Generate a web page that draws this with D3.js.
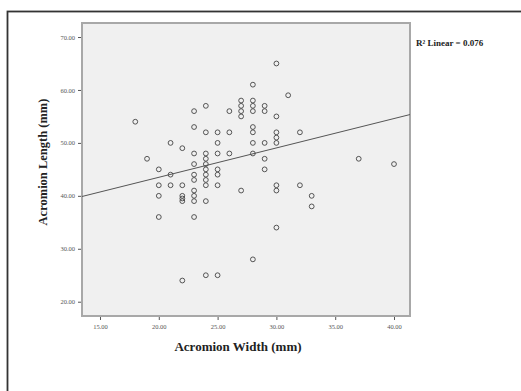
<!DOCTYPE html>
<html>
<head>
<meta charset="utf-8">
<script src="https://cdn.jsdelivr.net/npm/d3@7"></script>
<style>
  body { margin: 0; background: #fff; }
  svg { display: block; }
</style>
</head>
<body>
<figure id="scatter" style="margin:0"></figure>
<script>
// Acromion width (mm) for each case
const acromionWidth = [
  18, 19,
  20, 20, 20, 20,
  21, 21, 21,
  22, 22, 22, 22, 22, 22,
  23, 23, 23, 23, 23, 23, 23, 23, 23, 23,
  24, 24, 24, 24, 24, 24, 24, 24, 24, 24, 24,
  25, 25, 25, 25, 25, 25, 25,
  26, 26, 26,
  27, 27, 27, 27, 27,
  28, 28, 28, 28, 28, 28, 28, 28, 28,
  29, 29, 29, 29, 29,
  30, 30, 30, 30, 30, 30, 30, 30,
  31, 32, 32, 33, 33, 37, 40
];
// Acromion length (mm), same order
const acromionLength = [
  54, 47,
  45, 42, 40, 36,
  50, 44, 42,
  49, 42, 40, 39.5, 39, 24,
  56, 53, 48, 46, 44, 43, 41, 40, 39, 36,
  57, 52, 48, 47, 46, 45, 44, 43, 42, 39, 25,
  52, 50, 48, 45, 44, 42, 25,
  56, 52, 48,
  58, 57, 56, 55, 41,
  61, 58, 57, 56, 53, 52, 50, 48, 28,
  57, 56, 50, 47, 45,
  65, 55, 52, 51, 50, 42, 41, 34,
  59, 52, 42, 40, 38, 47, 46
];
const xTicks = [15, 20, 25, 30, 35, 40];
const yTicks = [20, 30, 40, 50, 60, 70];
// linear fit
const fitIntercept = 32.4;
const fitSlope = 0.555;
const rSquared = "0.076";

const width = 521, height = 391;
const plot = { left: 82, top: 23, right: 410, bottom: 316 };

const svg = d3.select("figure#scatter")
  .append("svg")
  .attr("width", width)
  .attr("height", height);

// outer frame
svg.append("rect")
  .attr("x", 7.5).attr("y", 11.5)
  .attr("width", 600).attr("height", 500)
  .attr("fill", "none")
  .attr("stroke", "#333")
  .attr("stroke-width", 1.8);

const x = d3.scaleLinear()
  .domain([13.47, 41.36])
  .range([plot.left, plot.right]);

const y = d3.scaleLinear()
  .domain([17.3, 72.65])
  .range([plot.bottom, plot.top]);

// plot background
svg.append("rect")
  .attr("x", plot.left).attr("y", plot.top)
  .attr("width", plot.right - plot.left)
  .attr("height", plot.bottom - plot.top)
  .attr("fill", "#f0f0f0")
  .attr("stroke", "#a8a8a8")
  .attr("stroke-width", 2);

// axes
const xAxis = svg.append("g")
  .attr("transform", "translate(0," + (plot.bottom + 1) + ")")
  .call(d3.axisBottom(x).tickValues(xTicks).tickFormat(d3.format(".2f")).tickSize(3).tickSizeOuter(0));

const yAxis = svg.append("g")
  .attr("transform", "translate(" + (plot.left - 1) + ",0)")
  .call(d3.axisLeft(y).tickValues(yTicks).tickFormat(d3.format(".2f")).tickSize(3).tickSizeOuter(0));

[xAxis, yAxis].forEach(a => {
  a.select(".domain").remove();
  a.selectAll("line").attr("stroke", "#555");
  a.selectAll("text")
    .attr("fill", "#555")
    .style("font-family", "Liberation Serif, serif")
    .style("font-size", "6.5px");
});
xAxis.selectAll("text").attr("dy", "0.9em");

// fit line
svg.append("line")
  .attr("x1", x(13.47)).attr("y1", y(fitIntercept + fitSlope * 13.47))
  .attr("x2", x(41.36)).attr("y2", y(fitIntercept + fitSlope * 41.36))
  .attr("stroke", "#555")
  .attr("stroke-width", 1);

// points
svg.append("g")
  .selectAll("circle")
  .data(acromionWidth.map((w, i) => ({ w: w, l: acromionLength[i] })))
  .enter()
  .append("circle")
  .attr("cx", d => x(d.w))
  .attr("cy", d => y(d.l))
  .attr("r", 2.4)
  .attr("fill", "none")
  .attr("stroke", "#444")
  .attr("stroke-width", 0.9);

// titles
svg.append("text")
  .attr("x", 238)
  .attr("y", 351)
  .attr("text-anchor", "middle")
  .style("font-family", "Liberation Serif, serif")
  .style("font-weight", "bold")
  .style("font-size", "13px")
  .attr("fill", "#222")
  .text("Acromion Width (mm)");

svg.append("text")
  .attr("transform", "translate(47,162) rotate(-90)")
  .attr("text-anchor", "middle")
  .style("font-family", "Liberation Serif, serif")
  .style("font-weight", "bold")
  .style("font-size", "12.5px")
  .attr("fill", "#222")
  .text("Acromion Length (mm)");

svg.append("text")
  .attr("x", 416)
  .attr("y", 46)
  .style("font-family", "Liberation Serif, serif")
  .style("font-weight", "bold")
  .style("font-size", "9px")
  .attr("fill", "#222")
  .text("R² Linear = " + rSquared);
</script>
</body>
</html>
